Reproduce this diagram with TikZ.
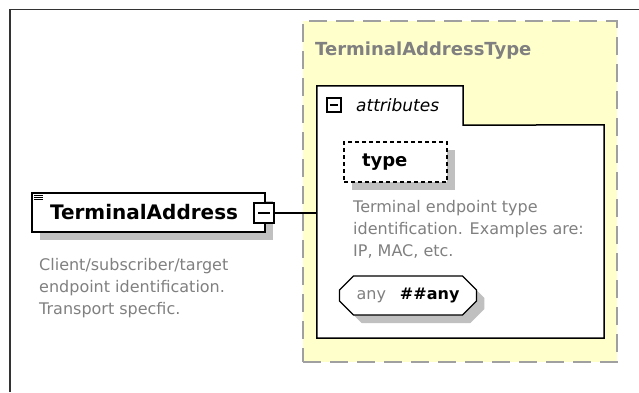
\documentclass[tikz,border=0pt]{standalone}
\usepackage{fontspec}
\setmainfont{DejaVu Sans}
\usetikzlibrary{shapes.misc,shadows}

\definecolor{ctypefill}{HTML}{FFFFCC}
\definecolor{ctypeline}{HTML}{A0A0A0}
\definecolor{desctext}{HTML}{808080}
\definecolor{shadowgray}{HTML}{C0C0C0}

\begin{document}
\begin{tikzpicture}[x=1pt,y=-1pt,
    boxshadow/.style={drop shadow={shadow xshift=8pt,shadow yshift=-8pt,opacity=1,fill=shadowgray}},
    toggle/.style={draw, line width=1.2pt, fill=white, minimum size=#1, inner sep=0pt,
        path picture={\draw[line width=1.2pt] ([xshift=-0.3*#1]path picture bounding box.center) -- ([xshift=0.3*#1]path picture bounding box.center);}},
    descr/.style={anchor=north west, align=left, inner sep=0pt, text=desctext, font=\fontsize{16}{22}\selectfont}]
    \useasboundingbox (0,0) rectangle (639,392);
    \draw[line width=1.5pt, black!80] (10,392) -- (10,9.5) -- (639,9.5);

    % complex type
    \node[draw=ctypeline, fill=ctypefill, line width=2pt, dash pattern=on 18pt off 9pt, minimum width=314pt, minimum height=341pt] (ctype) at (460,191.5) {};
    \node[anchor=base west, inner sep=0pt, text=desctext, font=\fontsize{18}{22}\selectfont\bfseries] (ctypename) at (315,55) {TerminalAddressType};

    % attributes group
    \node[minimum width=287pt, minimum height=213pt, inner sep=0pt] (attrbox) at (460.5,231.5) {};
    \node[minimum width=146pt, minimum height=39pt, inner sep=0pt] (attrtab) at (390,105.5) {};
    \draw[line width=1.5pt, fill=white] (attrbox.south west) -- (attrtab.north west) -- (attrtab.north east) -- (attrtab.south east) -- (attrbox.north east) -- (attrbox.south east) -- cycle;
    \node[toggle=14pt] (attrtoggle) at (334,105) {};
    \node[anchor=west, inner sep=0pt, font=\fontsize{17}{20}\selectfont\itshape] (attrlabel) at (356,105) {attributes};

    \node[draw, dash pattern=on 4pt off 3pt, line width=1.2pt, fill=white, boxshadow, minimum width=103pt, minimum height=40pt, inner xsep=18pt, text width=67pt, align=left, font=\fontsize{18}{22}\selectfont\bfseries] (typeattr) at (395.5,162) {type};
    \node[descr] (typedesc) at (353,200) {Terminal endpoint type\\identification. Examples are:\\IP, MAC, etc.};

    \node[draw, line width=1.2pt, fill=white, boxshadow, chamfered rectangle, chamfered rectangle xsep=7pt, chamfered rectangle ysep=7pt, minimum width=128pt, minimum height=39pt, inner xsep=10pt, font=\fontsize{16}{20}\selectfont] (anyattr) at (408,295.5) {\textcolor{desctext}{any}\hspace{14pt}\textbf{\#\#any}};

    % element
    \node[draw, line width=1.5pt, fill=white, boxshadow, minimum width=233pt, minimum height=39pt, inner xsep=18pt, text width=197pt, align=left, font=\fontsize{20}{24}\selectfont\bfseries] (elem) at (148.5,212.5) {TerminalAddress};
    \foreach \i in {0,1,2}
        \draw[line width=0.8pt] ([xshift=3pt,yshift=-3pt-2.2pt*\i]elem.north west) -- ++(9,0);
    \node[toggle=20pt] (elemtoggle) at (264,213) {};
    \node[descr] (elemdesc) at (39,258) {Client/subscriber/target\\endpoint identification.\\Transport specfic.};

    \draw[line width=1.2pt] (elemtoggle.east) -- (elemtoggle.east -| attrbox.west);
\end{tikzpicture}
\end{document}
